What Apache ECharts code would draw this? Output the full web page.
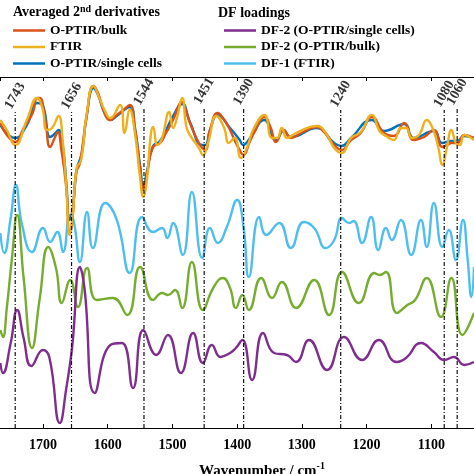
<!DOCTYPE html>
<html><head><meta charset="utf-8">
<script src="https://cdn.jsdelivr.net/npm/echarts@6/dist/echarts.min.js"></script>
<style>html,body{margin:0;padding:0;background:#fff}#c{width:474px;height:474px}</style>
</head><body><div id="c"></div>
<script>
// wavenumber axis range (cm-1), shown reversed
const wnMin = 1034, wnMax = 1766.5;
const xTickLabels = [1700, 1600, 1500, 1400, 1300, 1200, 1100];
// marked peaks and the top of their dashed guide lines (offset a.u.)
const peaks = [1743, 1656, 1544, 1451, 1390, 1240, 1080, 1060];
const peakTop = [316, 316, 320, 321, 320, 318, 318, 320];

// Averaged 2nd derivatives (offset, a.u.) as [wavenumber, value]
const optirBulk = [[1766,305],[1756,293],[1743,286],[1730,300],[1716,315],[1709,330],[1705,330],[1697,310],[1689,281],[1682,290],[1677,296],[1672,280],[1664,240],[1659,195],[1655,205],[1649,255],[1643,265],[1633,310],[1622,342],[1615,335],[1605,315],[1596,308],[1586,313],[1576,318],[1566,323],[1558,300],[1550,260],[1545,238],[1539,255],[1530,281],[1519,285],[1510,295],[1499,308],[1485,326],[1478,315],[1473,305],[1463,290],[1454,280],[1449,278],[1442,298],[1430,315],[1420,308],[1411,298],[1402,285],[1396,278],[1391,273],[1380,287],[1374,295],[1358,311],[1348,300],[1340,286],[1328,298],[1317,290],[1301,295],[1277,301],[1266,296],[1250,283],[1239,278],[1224,288],[1209,295],[1192,311],[1173,295],[1158,292],[1142,305],[1127,288],[1111,291],[1096,298],[1083,281],[1076,283],[1069,285],[1060,285],[1049,293],[1034,290]];
const ftir = [[1766,308],[1756,298],[1743,283],[1725,308],[1709,330],[1701,320],[1694,298],[1686,300],[1676,312],[1670,290],[1664,240],[1659,193],[1654,215],[1648,260],[1641,268],[1633,312],[1622,342],[1613,330],[1605,318],[1596,310],[1581,323],[1574,295],[1566,318],[1558,295],[1550,250],[1545,231],[1540,245],[1534,290],[1530,301],[1523,283],[1516,290],[1505,316],[1499,300],[1493,310],[1485,330],[1478,300],[1470,290],[1459,280],[1453,273],[1445,285],[1432,312],[1420,300],[1413,285],[1404,290],[1394,270],[1385,280],[1374,300],[1358,313],[1346,290],[1338,290],[1331,300],[1323,290],[1309,295],[1277,302],[1263,295],[1250,280],[1239,275],[1224,290],[1209,296],[1192,313],[1180,297],[1170,292],[1158,288],[1147,300],[1139,300],[1130,290],[1119,293],[1107,308],[1098,300],[1089,280],[1083,263],[1076,280],[1069,298],[1062,285],[1056,283],[1049,293],[1034,288]];
const optirCells = [[1766,303],[1743,290],[1725,303],[1709,325],[1700,322],[1689,291],[1682,294],[1676,298],[1670,285],[1664,245],[1659,208],[1654,220],[1648,258],[1640,275],[1633,310],[1622,340],[1615,333],[1605,315],[1596,308],[1586,312],[1566,321],[1558,300],[1550,262],[1545,242],[1539,258],[1530,282],[1519,287],[1499,312],[1485,324],[1473,306],[1454,283],[1449,283],[1442,298],[1430,313],[1411,300],[1396,288],[1391,283],[1380,290],[1358,308],[1340,288],[1328,297],[1317,291],[1277,300],[1250,285],[1239,282],[1224,290],[1192,308],[1173,297],[1142,304],[1127,290],[1096,297],[1083,285],[1069,287],[1060,287],[1049,292],[1034,290]];

// DF loadings (offset, a.u.)
const df1Ftir = [[1766,195],[1760,175],[1750,210],[1742,243],[1733,205],[1717,176],[1700,200],[1689,186],[1678,196],[1669,176],[1658,213],[1652,205],[1643,166],[1632,216],[1623,180],[1604,225],[1586,208],[1566,155],[1547,211],[1530,196],[1516,200],[1508,190],[1499,205],[1484,173],[1470,236],[1454,170],[1442,200],[1430,185],[1416,201],[1400,228],[1390,200],[1382,151],[1366,211],[1355,193],[1335,205],[1317,180],[1297,206],[1281,200],[1263,180],[1250,188],[1238,210],[1227,205],[1220,207],[1207,185],[1193,211],[1182,178],[1170,200],[1161,188],[1147,208],[1131,173],[1116,208],[1107,181],[1096,225],[1083,181],[1073,198],[1062,168],[1051,208],[1044,170],[1038,131],[1034,161]];
const df2Bulk = [[1766,98],[1762,91],[1756,120],[1748,170],[1740,213],[1730,150],[1717,80],[1705,130],[1692,181],[1680,160],[1671,125],[1658,148],[1646,121],[1632,160],[1617,128],[1592,130],[1570,113],[1550,161],[1530,128],[1516,135],[1507,133],[1496,138],[1485,120],[1470,166],[1453,118],[1437,140],[1422,150],[1411,140],[1402,120],[1392,133],[1382,118],[1363,150],[1346,130],[1331,146],[1309,120],[1281,148],[1258,113],[1238,156],[1212,125],[1188,155],[1180,153],[1170,156],[1153,115],[1137,123],[1125,128],[1107,150],[1085,111],[1069,150],[1052,93],[1034,115]];
const df2Cells = [[1766,65],[1762,55],[1750,85],[1740,118],[1730,90],[1718,62],[1700,78],[1690,70],[1674,5],[1664,40],[1655,81],[1643,161],[1636,140],[1620,35],[1596,83],[1578,85],[1561,40],[1545,98],[1525,73],[1507,93],[1487,55],[1468,95],[1453,65],[1439,83],[1426,71],[1411,75],[1402,80],[1392,88],[1377,48],[1360,95],[1343,75],[1323,73],[1309,66],[1289,88],[1261,58],[1235,91],[1207,68],[1181,88],[1154,66],[1139,70],[1116,85],[1096,76],[1080,68],[1065,71],[1049,63],[1034,66]];

const FONT = '"Liberation Serif","Times New Roman",serif';
const chart = echarts.init(document.getElementById('c'), null, {renderer: 'canvas'});

function curve(name, data, color) {
  return {name, type: 'line', data, smooth: 0.5, symbol: 'none', xAxisIndex: 0, yAxisIndex: 0,
    lineStyle: {color, width: 2.4}, itemStyle: {color}, z: 3, silent: true};
}
const series = [
  curve('DF-1 (FTIR)', df1Ftir, '#4DBEEE'),
  curve('DF-2 (O-PTIR/bulk)', df2Bulk, '#77AC30'),
  curve('DF-2 (O-PTIR/single cells)', df2Cells, '#7E2F8E'),
  curve('O-PTIR/single cells', optirCells, '#0072BD'),
  curve('O-PTIR/bulk', optirBulk, '#D95319'),
  curve('FTIR', ftir, '#EDB120')
];
peaks.forEach((p, i) => {
  series.push({type: 'line', data: [[p, 0], [p, peakTop[i]]], symbol: 'none', silent: true, z: 4,
    lineStyle: {color: '#111', width: 1.2, type: [4, 2, 1, 2]}});
});
series.push({type: 'scatter', silent: true, symbolSize: 0, z: 5,
  data: peaks.map((p, i) => [p, peakTop[i] + 16]),
  label: {show: true, position: [0, 0], align: 'center', verticalAlign: 'middle', rotate: 60,
    formatter: (q) => String(q.value[0]), fontFamily: FONT, fontWeight: 'bold', fontSize: 14, color: '#000'}});

const legendBase = {orient: 'vertical', icon: 'rect', itemWidth: 32, itemHeight: 2.5, itemGap: 2.5, padding: 0,
  textStyle: {fontFamily: FONT, fontWeight: 'bold', fontSize: 13.5, color: '#000'}, selectedMode: false};

chart.setOption({
  animation: false,
  backgroundColor: '#fff',
  grid: {left: 0, right: 0, top: 77, bottom: 46, outerBoundsMode: 'none', containLabel: false},
  xAxis: [{
    type: 'value', min: wnMin, max: wnMax, inverse: true, position: 'bottom', splitNumber: 7,
    axisLine: {lineStyle: {color: '#000', width: 1}},
    axisTick: {inside: true, length: 4, lineStyle: {color: '#000'}},
    splitLine: {show: false},
    axisLabel: {margin: 10, fontFamily: FONT, fontWeight: 'bold', fontSize: 14, color: '#000',
      showMinLabel: false, showMaxLabel: false,
      formatter: (v) => xTickLabels.indexOf(Math.round(v)) >= 0 ? String(Math.round(v)) : ''},
    name: 'Wavenumber / cm{sup|-1}', nameLocation: 'middle', nameGap: 33,
    nameTextStyle: {fontFamily: FONT, fontWeight: 'bold', fontSize: 15, color: '#000', padding: [0, 0, 0, 50],
      rich: {sup: {fontFamily: FONT, fontWeight: 'bold', fontSize: 10, color: '#000', padding: [0, 0, 10, 0]}}}
  }, {
    type: 'value', min: wnMin, max: wnMax, inverse: true, position: 'top', splitNumber: 7,
    axisLine: {lineStyle: {color: '#000', width: 1}},
    axisTick: {inside: true, length: 4, lineStyle: {color: '#000'}},
    axisLabel: {show: false}, splitLine: {show: false}
  }],
  yAxis: {type: 'value', min: 0, max: 351, show: false},
  legend: [
    Object.assign({}, legendBase, {left: 13, top: 23.5, data: ['O-PTIR/bulk', 'FTIR', 'O-PTIR/single cells']}),
    Object.assign({}, legendBase, {left: 224, top: 23.5, data: ['DF-2 (O-PTIR/single cells)', 'DF-2 (O-PTIR/bulk)', 'DF-1 (FTIR)']})
  ],
  graphic: [
    {type: 'text', left: 13, top: 4, style: {text: 'Averaged 2{sup|nd} derivatives',
      font: 'bold 14px ' + FONT, fill: '#000',
      rich: {sup: {fontFamily: FONT, fontWeight: 'bold', fontSize: 10, fill: '#000', verticalAlign: 'top', padding: [0, 0, 6, 0]}}}},
    {type: 'text', left: 218, top: 6, style: {text: 'DF loadings', font: 'bold 14px ' + FONT, fill: '#000'}}
  ],
  series
});
</script></body></html>
